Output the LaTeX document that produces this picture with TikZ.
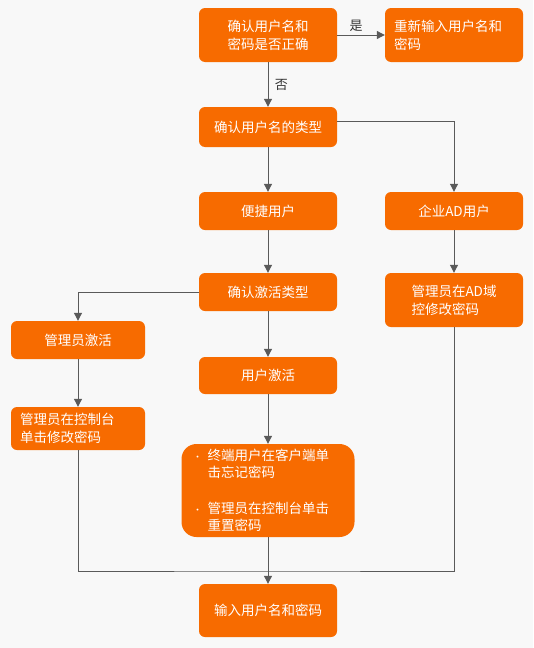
\documentclass[tikz,border=0pt]{standalone}
\usepackage{fontspec}
\setmainfont{Noto Sans CJK SC}
\usetikzlibrary{arrows.meta}
\definecolor{flowOrange}{HTML}{F76B00}
\definecolor{flowGray}{HTML}{5A5A5A}
\definecolor{flowBack}{HTML}{F8F8F8}
\newcommand{\stepdot}{\makebox[14.5pt][l]{\fontsize{9}{9}\selectfont\textbullet}}

\begin{document}
\begin{tikzpicture}[x=1pt, y=-1pt,
    block/.style={rectangle, fill=flowOrange, rounded corners=6pt, text=white, font=\fontsize{13.5}{18}\selectfont, align=center, minimum width=138pt, minimum height=38pt, inner sep=0pt},
    leftblock/.style={block, align=left, text width=#1},
    arrow/.style={-{Triangle[length=8pt,width=8pt]}, line width=1pt, draw=flowGray},
    link/.style={line width=1pt, draw=flowGray},
    tag/.style={font=\fontsize{13}{15}\selectfont, text=black!80}
]
    \useasboundingbox (0,0) rectangle (533,648);
    \fill[flowBack] (0,0) rectangle (533,648);

    % login check
    \node[block, minimum height=54pt] (check) at (268,35) {确认用户名和\\密码是否正确};
    \node[leftblock=120pt, minimum height=54pt] (retry) at (454,35) {重新输入用户名和\\密码};
    \node[block, minimum height=40pt] (usertype) at (268,127) {确认用户名的类型};

    % user kinds
    \node[block] (easy) at (268,211) {便捷用户};
    \node[block] (ad) at (454,211) {企业AD用户};
    \node[block] (activate) at (268,292) {确认激活类型};
    \node[block, align=left, minimum height=54pt] (adomain) at (454,300) {管理员在AD域\\控修改密码};

    % activation kinds
    \node[block, minimum width=134pt] (adminact) at (78,340) {管理员激活};
    \node[block, minimum height=37pt] (useract) at (268,375.5) {用户激活};
    \node[leftblock=116pt, minimum width=134pt, minimum height=43pt] (admincon) at (78,428.5) {管理员在控制台\\单击修改密码};
    \node[leftblock=150pt, minimum width=173pt, minimum height=93pt, rounded corners=15pt, font=\fontsize{13.5}{17.5}\selectfont] (steps) at (268,490.5)
        {\stepdot 终端用户在客户端单\\\hspace*{14.5pt}击忘记密码\\[18pt]\stepdot 管理员在控制台单击\\\hspace*{14.5pt}重置密码};
    \node[block, minimum height=53pt] (login) at (268,610.5) {输入用户名和密码};
    \coordinate (merge) at (268,571);

    \draw[arrow] (check) -- node[tag, above, pos=0.4] {是} (retry);
    \draw[arrow] (check) -- node[tag, right, xshift=3pt] {否} (usertype);
    \draw[arrow] (usertype) -- (easy);
    \draw[arrow] ([yshift=6pt]usertype.east) -| (ad);
    \draw[arrow] (easy) -- (activate);
    \draw[arrow] (ad) -- (adomain);
    \draw[arrow] (activate.west) -| (adminact);
    \draw[arrow] (activate) -- (useract);
    \draw[arrow] (adminact) -- (admincon);
    \draw[arrow] (useract) -- (steps);
    \draw[link] (admincon.south) |- (merge) -| (adomain.south);
    \draw[arrow] (steps) -- (login);
\end{tikzpicture}
\end{document}
